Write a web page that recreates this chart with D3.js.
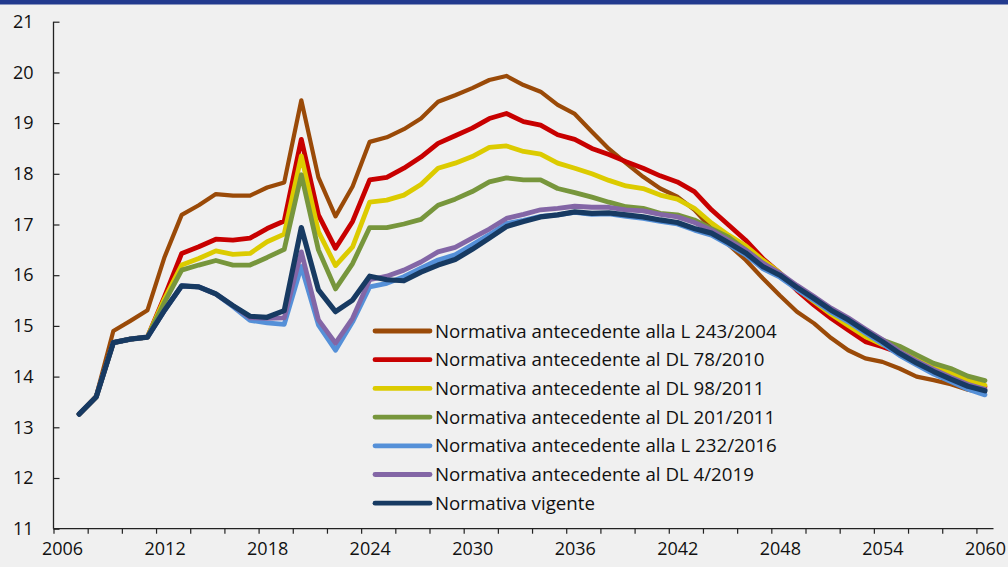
<!DOCTYPE html>
<html><head><meta charset="utf-8">
<script src="https://cdn.jsdelivr.net/npm/d3@7"></script>
<style>
html,body{margin:0;padding:0;background:#f0f0f0;}
svg{display:block;font-family:"Open Sans",sans-serif;}
</style>
</head><body>
<svg id="chart" width="1008" height="567"></svg>
<script>
// ---- DATA ----
const categories = [2006,2007,2008,2009,2010,2011,2012,2013,2014,2015,2016,2017,2018,2019,2020,2021,2022,2023,2024,2025,2026,2027,2028,2029,2030,2031,2032,2033,2034,2035,2036,2037,2038,2039,2040,2041,2042,2043,2044,2045,2046,2047,2048,2049,2050,2051,2052,2053,2054,2055,2056,2057,2058,2059,2060];
const years = [2007,2008,2009,2010,2011,2012,2013,2014,2015,2016,2017,2018,2019,2020,2021,2022,2023,2024,2025,2026,2027,2028,2029,2030,2031,2032,2033,2034,2035,2036,2037,2038,2039,2040,2041,2042,2043,2044,2045,2046,2047,2048,2049,2050,2051,2052,2053,2054,2055,2056,2057,2058,2059,2060];
const xTickLabels = [2006,2012,2018,2024,2030,2036,2042,2048,2054,2060];
const yTickValues = [11,12,13,14,15,16,17,18,19,20,21];

const seriesNames = [
  "Normativa antecedente alla L 243/2004",
  "Normativa antecedente al DL 78/2010",
  "Normativa antecedente al DL 98/2011",
  "Normativa antecedente al DL 201/2011",
  "Normativa antecedente alla L 232/2016",
  "Normativa antecedente al DL 4/2019",
  "Normativa vigente"
];
const seriesColors = ["#9a4a08","#c80000","#dccb00","#77963c","#5590d8","#8366a6","#173a62"];

const sL243_2004 = [13.26,13.62,14.90,15.10,15.31,16.36,17.19,17.38,17.60,17.57,17.57,17.73,17.83,19.45,17.93,17.16,17.75,18.63,18.72,18.88,19.09,19.42,19.55,19.69,19.85,19.93,19.75,19.62,19.36,19.18,18.83,18.49,18.21,17.94,17.71,17.55,17.29,16.92,16.60,16.30,15.94,15.60,15.28,15.05,14.76,14.52,14.36,14.29,14.16,14.00,13.93,13.85,13.74,13.68];
const sDL78_2010 = [13.26,13.60,14.67,14.74,14.78,15.58,16.43,16.56,16.71,16.69,16.73,16.92,17.07,18.68,17.19,16.53,17.06,17.88,17.93,18.11,18.33,18.60,18.75,18.90,19.09,19.19,19.03,18.96,18.77,18.68,18.50,18.38,18.24,18.11,17.96,17.84,17.65,17.29,16.99,16.69,16.33,16.04,15.70,15.41,15.15,14.92,14.69,14.59,14.47,14.30,14.14,14.00,13.87,13.80];
const sDL98_2011 = [13.26,13.60,14.67,14.74,14.78,15.54,16.20,16.33,16.48,16.41,16.43,16.66,16.81,18.35,16.86,16.19,16.56,17.44,17.48,17.58,17.79,18.11,18.21,18.34,18.52,18.55,18.44,18.39,18.21,18.11,18.00,17.87,17.76,17.71,17.58,17.50,17.32,17.03,16.79,16.58,16.30,16.05,15.73,15.48,15.23,15.01,14.79,14.63,14.52,14.36,14.20,14.07,13.93,13.83];
const sDL201_2011 = [13.26,13.60,14.67,14.74,14.78,15.47,16.10,16.20,16.29,16.20,16.20,16.35,16.51,17.98,16.50,15.73,16.23,16.94,16.94,17.01,17.10,17.38,17.50,17.65,17.84,17.92,17.88,17.88,17.71,17.63,17.54,17.44,17.35,17.32,17.22,17.19,17.09,16.92,16.75,16.50,16.24,16.00,15.77,15.55,15.32,15.12,14.91,14.72,14.60,14.43,14.26,14.16,14.01,13.92];
const sL232_2016 = [13.26,13.60,14.67,14.74,14.78,15.31,15.79,15.77,15.63,15.38,15.11,15.06,15.03,16.17,15.02,14.52,15.08,15.77,15.84,15.97,16.14,16.30,16.40,16.60,16.80,17.02,17.08,17.16,17.19,17.24,17.20,17.21,17.16,17.12,17.06,17.01,16.89,16.79,16.60,16.40,16.13,15.96,15.72,15.50,15.27,15.08,14.86,14.65,14.42,14.23,14.05,13.90,13.75,13.64];
const sDL4_2019 = [13.26,13.60,14.67,14.74,14.78,15.31,15.79,15.77,15.63,15.40,15.16,15.15,15.16,16.46,15.12,14.66,15.15,15.91,15.98,16.10,16.26,16.46,16.55,16.73,16.91,17.12,17.20,17.29,17.32,17.36,17.34,17.34,17.29,17.27,17.20,17.15,17.04,16.89,16.69,16.50,16.24,16.04,15.80,15.58,15.35,15.16,14.94,14.73,14.50,14.31,14.14,13.99,13.85,13.75];
const sVigente = [13.26,13.60,14.67,14.74,14.78,15.31,15.79,15.77,15.63,15.40,15.19,15.17,15.30,16.94,15.71,15.28,15.51,15.98,15.91,15.89,16.06,16.20,16.31,16.51,16.73,16.96,17.06,17.15,17.19,17.25,17.22,17.23,17.19,17.15,17.09,17.04,16.92,16.83,16.64,16.44,16.17,16.00,15.76,15.54,15.31,15.12,14.90,14.69,14.46,14.27,14.10,13.95,13.81,13.72];

const seriesValues = [sL243_2004, sDL78_2010, sDL98_2011, sDL201_2011, sL232_2016, sDL4_2019, sVigente];

// ---- CHART ----
const svg = d3.select("#chart");
const W = 1008, H = 567;
const plot = {left: 53.5, right: 993.5, top: 21.7, bottom: 528.7};

svg.append("rect").attr("x",0).attr("y",0).attr("width",W).attr("height",H).attr("fill","#f0f0f0");
svg.append("rect").attr("x",0).attr("y",0).attr("width",W).attr("height",4.5).attr("fill","#223a8e");

const x = d3.scaleBand().domain(categories).range([plot.left, plot.right]).padding(0);
const bw = x.bandwidth();
const xc = d => x(d) + bw/2;
const xEdge = d3.scaleLinear().domain([categories[0]-0.5, categories[categories.length-1]+0.5]).range([plot.left, plot.right]);
const y = d3.scaleLinear().domain([11,21]).range([plot.bottom, plot.top]);

// lines
const line = d3.line().x(d => xc(d[0])).y(d => y(d[1]));
seriesValues.forEach((vals, i) => {
  const pts = years.map((yr, j) => [yr, vals[j]]);
  svg.append("path").datum(pts)
    .attr("d", line)
    .attr("fill","none")
    .attr("stroke", seriesColors[i])
    .attr("stroke-width", i === 0 ? 4.2 : (i === 6 ? 5.2 : 4.8))
    .attr("stroke-linejoin","round")
    .attr("stroke-linecap","round");
});

// y axis
const yAxis = d3.axisLeft(y).tickValues(yTickValues).tickSize(-6).tickPadding(20).tickFormat(d3.format("d"));
const gy = svg.append("g").attr("transform",`translate(${plot.left},0)`).call(yAxis);
gy.select(".domain").attr("stroke","#222").attr("stroke-width",1.3).attr("d",`M-0,${plot.top}V${plot.bottom}`);
gy.selectAll(".tick line").attr("stroke","#222").attr("stroke-width",1.2);
gy.selectAll(".tick text").attr("fill","#111").style("font-size","18px").style("font-family","'Open Sans',sans-serif");

// x axis ticks at every other category boundary
const boundaryTicks = categories.filter((c,i)=> i % 2 === 0).map(c => c - 0.5);
const xAxisTicks = d3.axisBottom(xEdge).tickValues(boundaryTicks).tickSize(5).tickFormat("");
const gx = svg.append("g").attr("transform",`translate(0,${plot.bottom})`).call(xAxisTicks);
gx.select(".domain").attr("stroke","#222").attr("stroke-width",1.3).attr("d",`M${plot.left},0H${plot.right}`);
gx.selectAll(".tick line").attr("stroke","#222").attr("stroke-width",1.2);

const xLab = d3.axisBottom(d3.scaleLinear().domain(xEdge.domain()).range(xEdge.range()))
  .tickValues(xTickLabels).tickSize(0).tickPadding(14).tickFormat(d3.format("d"));
const gxl = svg.append("g").attr("transform",`translate(0,${plot.bottom})`).call(xLab);
gxl.select(".domain").remove();
gxl.selectAll(".tick text").attr("fill","#111").style("font-size","18px").style("font-family","'Open Sans',sans-serif");

// legend
const legend = svg.append("g");
const legX0 = 375, legX1 = 430, legTextX = 435, legY0 = 331, legStep = 28.7;
seriesNames.forEach((name, i) => {
  const yy = legY0 + i*legStep;
  legend.append("line").attr("x1",legX0).attr("x2",legX1).attr("y1",yy).attr("y2",yy)
    .attr("stroke",seriesColors[i]).attr("stroke-width",4.8).attr("stroke-linecap","round");
  legend.append("text").attr("class","legtxt").attr("x",legTextX).attr("y",yy).attr("dy","0.35em")
    .attr("fill","#111").style("font-size","17px").text(name);
});
// fit legend font to reference width of first entry
const first = legend.select(".legtxt").node();
const target = 342;
const w0 = first.getComputedTextLength();
const fs = 17 * target / w0;
legend.selectAll(".legtxt").style("font-size", fs.toFixed(2) + "px");
</script>
</body></html>
